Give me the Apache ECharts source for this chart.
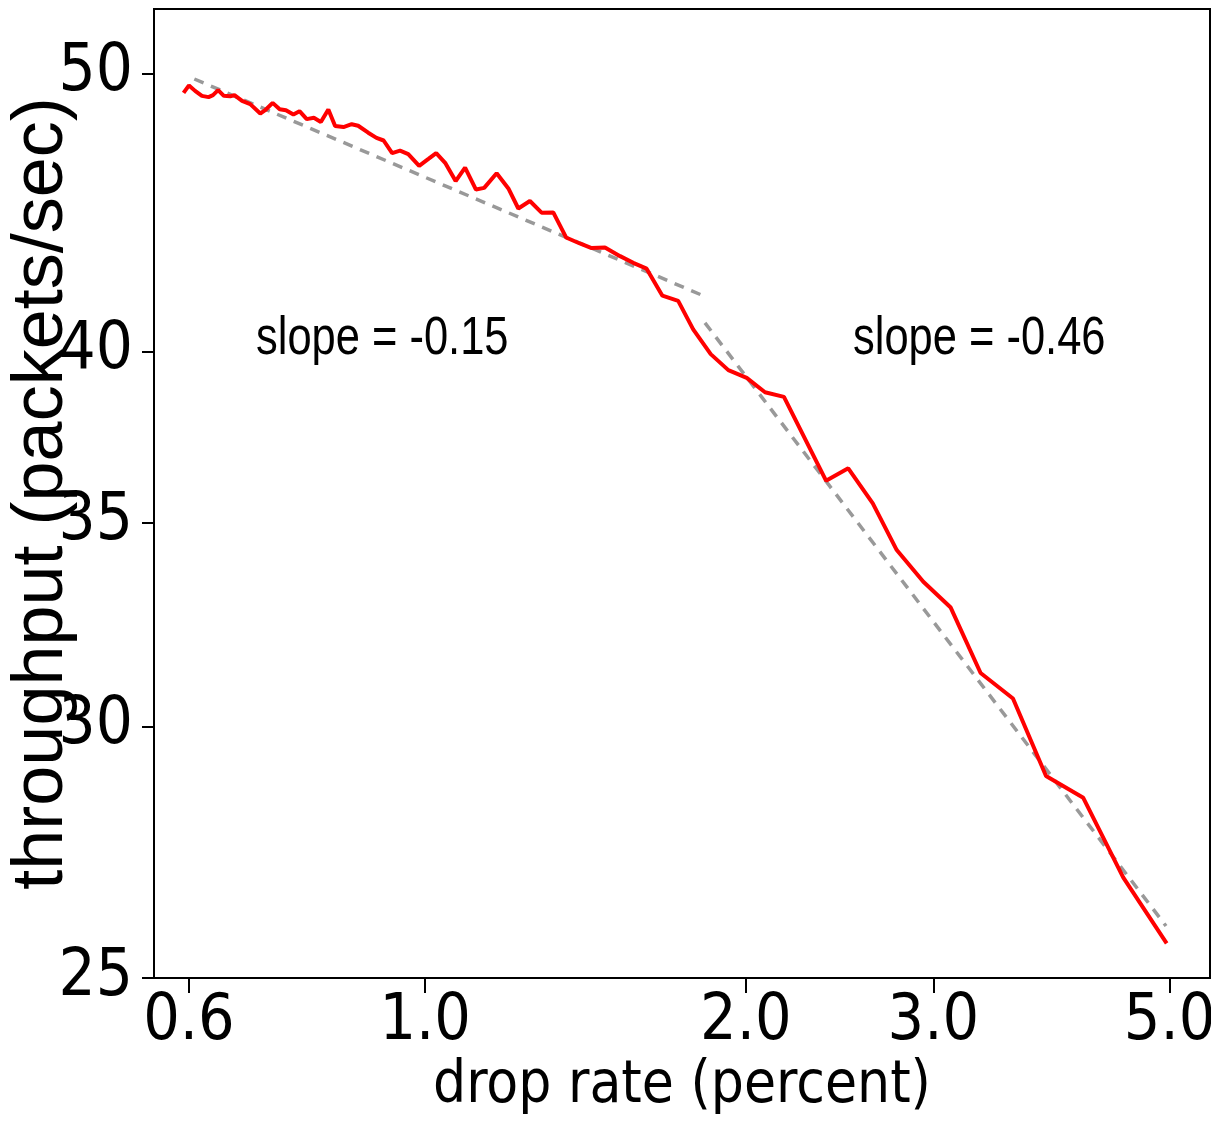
<!DOCTYPE html>
<html>
<head>
<meta charset="utf-8">
<script src="https://cdn.jsdelivr.net/npm/echarts@6/dist/echarts.min.js"></script>
<style>
html,body{margin:0;padding:0;background:#fff;}
#chart{width:1211px;height:1128px;}
</style>
</head>
<body>
<div id="chart"></div>
<script>
// ---- data ----
const dropRate = [0.593,0.600,0.608,0.617,0.626,0.632,0.639,0.647,0.656,0.662,0.673,0.685,0.700,0.707,0.719,0.730,0.740,0.752,0.762,0.774,0.786,0.798,0.811,0.823,0.838,0.853,0.865,0.884,0.900,0.914,0.931,0.947,0.964,0.987,1.007,1.024,1.044,1.068,1.090,1.116,1.136,1.167,1.197,1.223,1.254,1.286,1.319,1.356,1.397,1.433,1.475,1.524,1.568,1.614,1.670,1.728,1.785,1.854,1.926,2.004,2.085,2.172,2.379,2.496,2.632,2.772,2.936,3.115,3.323,3.564,3.828,4.149,4.523,4.969];
const throughput = [49.22,49.52,49.30,49.10,49.05,49.13,49.33,49.10,49.08,49.13,48.90,48.77,48.40,48.52,48.82,48.57,48.53,48.36,48.49,48.18,48.23,48.07,48.56,47.91,47.87,47.98,47.92,47.65,47.45,47.35,46.87,46.96,46.83,46.39,46.65,46.87,46.50,45.82,46.32,45.51,45.57,46.11,45.55,44.82,45.09,44.67,44.68,43.79,43.58,43.42,43.44,43.14,42.91,42.71,41.80,41.63,40.70,39.91,39.41,39.17,38.73,38.59,36.15,36.50,35.52,34.27,33.45,32.80,31.22,30.63,28.92,28.46,26.86,25.62];
const fitLowX = [0.607, 1.827];
const fitLowY = [49.78, 41.79];
const fitHighX = [1.831, 4.962];
const fitHighY = [40.91, 25.94];
const xTicks = [0.6, 1.0, 2.0, 3.0, 5.0];
const yTicks = [25, 30, 35, 40, 50];
const slopeLabels = ['slope = -0.15', 'slope = -0.46'];
const xRange = [0.5563, 5.457];
const yRange = [25, 52.72];

// ---- axis transforms ----
const TX = v => Math.log10(v);
const IX = u => Math.pow(10, u);
const TY = v => Math.log(v - 6);
const IY = u => Math.exp(u) + 6;

const pair = (xs, ys) => xs.map((x, i) => [TX(x), TY(ys[i])]);

const NARROW = '"Liberation Sans Narrow", "Arial Narrow", "DejaVu Sans Condensed", sans-serif';
const REGULAR = '"Liberation Sans", Arial, Helvetica, sans-serif';

const chart = echarts.init(document.getElementById('chart'), null, {renderer: 'canvas'});
chart.setOption({
  backgroundColor: '#ffffff',
  animation: false,
  grid: {left: 154, right: 1, top: 9, bottom: 150, outerBoundsMode: 'none', containLabel: false,
    show: true, borderColor: '#000', borderWidth: 2, backgroundColor: 'transparent'},
  xAxis: {
    type: 'value',
    min: TX(xRange[0]), max: TX(xRange[1]),
    splitLine: {show: false},
    axisLine: {show: false, onZero: false},
    axisTick: {show: true, inside: false, length: 15, customValues: xTicks.map(TX), lineStyle: {color: '#000', width: 2}},
    axisLabel: {customValues: xTicks.map(TX), margin: 12, color: '#000', fontFamily: NARROW, fontSize: 64,
      formatter: v => IX(v).toFixed(1)},
    name: 'drop rate (percent)', nameLocation: 'middle', nameGap: 80, nameMoveOverlap: false,
    nameTextStyle: {color: '#000', fontFamily: NARROW, fontSize: 58}
  },
  yAxis: {
    type: 'value',
    min: TY(yRange[0]), max: TY(yRange[1]),
    splitLine: {show: false},
    axisLine: {show: false, onZero: false},
    axisTick: {show: true, inside: false, length: 12, customValues: yTicks.map(TY), lineStyle: {color: '#000', width: 2}},
    axisLabel: {customValues: yTicks.map(TY), margin: 21, color: '#000', fontFamily: NARROW, fontSize: 65,
      formatter: v => String(Math.round(IY(v)))},
    name: 'throughput (packets/sec)', nameLocation: 'middle', nameGap: 76, nameRotate: 90, nameMoveOverlap: false,
    nameTextStyle: {color: '#000', fontFamily: REGULAR, fontSize: 72}
  },
  graphic: [
    {type: 'text', left: 256, top: 313, scaleX: 0.82, style: {text: slopeLabels[0], font: '53px ' + REGULAR, fill: '#000'}},
    {type: 'text', left: 853, top: 313, scaleX: 0.82, style: {text: slopeLabels[1], font: '53px ' + REGULAR, fill: '#000'}}
  ],
  series: [
    {type: 'line', data: pair(fitLowX, fitLowY), symbol: 'none', lineStyle: {color: '#999999', width: 3.5, type: [10, 8]}, z: 2},
    {type: 'line', data: pair(fitHighX, fitHighY), symbol: 'none', lineStyle: {color: '#999999', width: 3.5, type: [10, 8]}, z: 2},
    {type: 'line', data: pair(dropRate, throughput), symbol: 'none', lineStyle: {color: '#ff0000', width: 4}, z: 3}
  ]
});
</script>
</body>
</html>
